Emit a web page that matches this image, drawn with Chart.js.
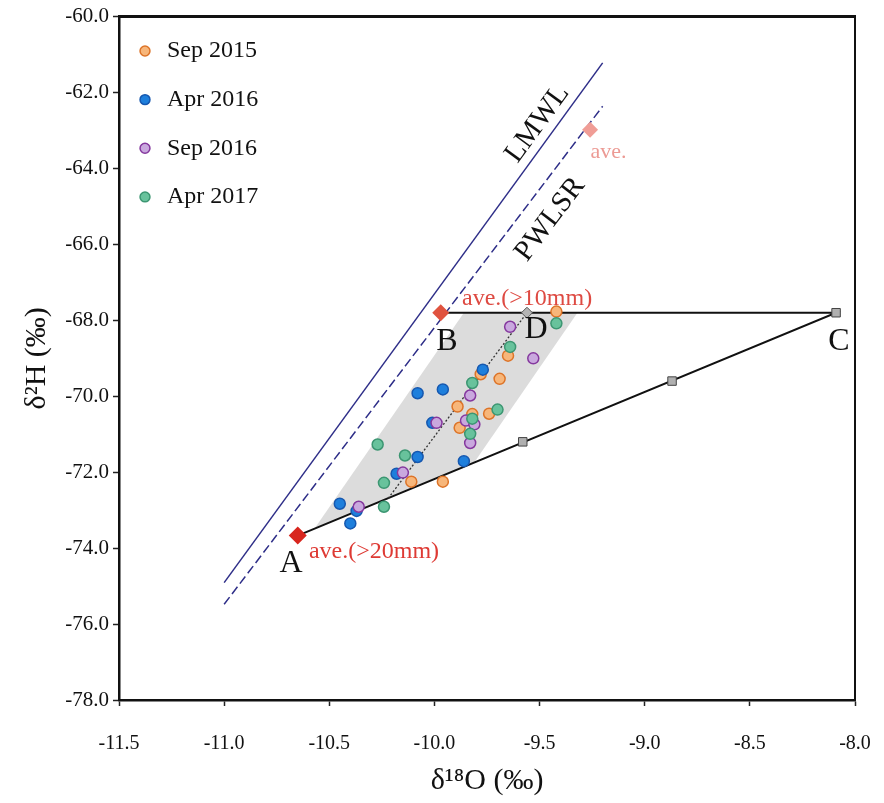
<!DOCTYPE html>
<html>
<head>
<meta charset="utf-8">
<script src="https://cdn.jsdelivr.net/npm/chart.js@4.4.1/dist/chart.umd.min.js"></script>
<style>
  html, body { margin: 0; padding: 0; background: #fff; }
  #wrap { width: 884px; height: 803px; }
</style>
</head>
<body>
<div id="wrap"><canvas id="isoChart"></canvas></div>
<script>
const SERIF = '"Liberation Serif", "Times New Roman", serif';

// sample series (d18O, d2H)
const sep2015X = [-9.42, -9.65, -9.78, -9.69, -9.89, -9.82, -9.74, -9.88, -10.11, -9.96];
const sep2015Y = [-67.77, -68.93, -69.42, -69.54, -70.27, -70.47, -70.46, -70.83, -72.25, -72.25];
const apr2016X = [-9.77, -10.08, -9.96, -10.01, -10.08, -9.86, -10.18, -10.45, -10.37, -10.40];
const apr2016Y = [-69.30, -69.92, -69.82, -70.70, -71.60, -71.71, -72.04, -72.83, -73.02, -73.35];
const sep2016X = [-9.64, -9.53, -9.83, -9.99, -9.85, -9.81, -9.83, -10.15, -10.36];
const sep2016Y = [-68.17, -69.00, -69.98, -70.70, -70.64, -70.74, -71.23, -72.01, -72.91];
const apr2017X = [-9.42, -9.64, -9.82, -9.70, -9.82, -9.83, -10.27, -10.14, -10.24, -10.24];
const apr2017Y = [-68.08, -68.70, -69.65, -70.35, -70.59, -70.99, -71.27, -71.56, -72.28, -72.91];

// end members and mixing
const pointA = [-10.65, -73.67];
const pointB = [-9.97, -67.80];
const pointD = [-9.56, -67.80];
const pointAve = [-9.26, -62.98];
const mixX = [-9.58, -8.87, -8.09];
const mixY = [-71.20, -69.60, -67.80];
const triX = [-10.65, -8.09, -9.97];
const triY = [-73.67, -67.80, -67.80];
const dotX = [-10.22, -9.56];
const dotY = [-72.69, -67.80];
const shadeX = [-10.57, -9.86, -9.32, -9.81];
const shadeY = [-73.48, -67.80, -67.80, -71.74];

// water lines
const lmwlX = [-11.0, -9.2];
const lmwlY = [-74.91, -61.22];
const pwlsrX = [-11.0, -9.2];
const pwlsrY = [-75.48, -62.36];

const xTicks = [-11.5, -11.0, -10.5, -10.0, -9.5, -9.0, -8.5, -8.0];
const yTicks = [-78, -76, -74, -72, -70, -68, -66, -64, -62, -60];

const pts = (xs, ys) => xs.map((x, i) => ({ x, y: ys[i] }));

const notes = [
  { text: 'LMWL', x: -9.51, y: -62.82, size: 29, color: '#111', along: [lmwlX, lmwlY] },
  { text: 'PWLSR', x: -9.45, y: -65.34, size: 29, color: '#111', along: [pwlsrX, pwlsrY] },
  { text: 'ave.', x: -9.258, y: -63.58, size: 22, color: '#ec9a94', align: 'left' },
  { text: 'ave.(>10mm)', x: -9.869, y: -67.43, size: 24, color: '#de4a42', align: 'left' },
  { text: 'ave.(>20mm)', x: -10.597, y: -74.09, size: 24, color: '#de3a34', align: 'left' },
  { text: 'A', x: -10.682, y: -74.41, size: 32, color: '#111' },
  { text: 'B', x: -9.94, y: -68.56, size: 32, color: '#111' },
  { text: 'D', x: -9.517, y: -68.25, size: 32, color: '#111' },
  { text: 'C', x: -8.076, y: -68.56, size: 32, color: '#111' },
];

const decorPlugin = {
  id: 'decor',
  afterDatasetsDraw(chart) {
    const { ctx, scales: { x, y } } = chart;
    ctx.save();
    notes.forEach(n => {
      ctx.font = `${n.size}px ${SERIF}`;
      ctx.fillStyle = n.color;
      ctx.textAlign = n.align || 'center';
      ctx.textBaseline = 'middle';
      ctx.save();
      ctx.translate(x.getPixelForValue(n.x), y.getPixelForValue(n.y));
      if (n.along) {
        const [lx, ly] = n.along;
        const dx = x.getPixelForValue(lx[1]) - x.getPixelForValue(lx[0]);
        const dy = y.getPixelForValue(ly[1]) - y.getPixelForValue(ly[0]);
        ctx.rotate(Math.atan2(dy, dx));
      }
      ctx.fillText(n.text, 0, 0);
      ctx.restore();
    });
    ctx.restore();
  },
  afterDraw(chart) {
    const { ctx, chartArea: a } = chart;
    ctx.save();
    ctx.strokeStyle = '#111';
    ctx.lineWidth = 3;
    ctx.beginPath();
    ctx.moveTo(a.left - 1, a.top);
    ctx.lineTo(a.right + 1, a.top);
    ctx.stroke();
    ctx.lineWidth = 2;
    ctx.beginPath();
    ctx.moveTo(a.right, a.top);
    ctx.lineTo(a.right, a.bottom);
    ctx.stroke();
    ctx.restore();
  },
};

const marker = (label, xs, ys, fill, edge, order) => ({
  label, data: pts(xs, ys), order,
  pointStyle: 'circle', pointRadius: 5.5,
  backgroundColor: fill, borderColor: edge, borderWidth: 1.5,
});

const ctx = document.getElementById('isoChart').getContext('2d');
new Chart(ctx, {
  type: 'scatter',
  data: {
    datasets: [
      marker('Sep 2015', sep2015X, sep2015Y, '#f7b67a', '#dd7428', 5),
      marker('Apr 2016', apr2016X, apr2016Y, '#1e7fdc', '#1658b0', 4),
      marker('Sep 2016', sep2016X, sep2016Y, '#c9a8de', '#85389e', 3),
      marker('Apr 2017', apr2017X, apr2017Y, '#68c29c', '#3c9672', 2),
      { label: 'A', data: pts([pointA[0]], [pointA[1]]), order: 1, pointStyle: 'rectRot', pointRadius: 9,
        backgroundColor: '#d8261e', borderColor: '#d8261e', borderWidth: 0 },
      { label: 'B', data: pts([pointB[0]], [pointB[1]]), order: 1, pointStyle: 'rectRot', pointRadius: 8.5,
        backgroundColor: '#e0533f', borderColor: '#e0533f', borderWidth: 0 },
      { label: 'ave', data: pts([pointAve[0]], [pointAve[1]]), order: 1, pointStyle: 'rectRot', pointRadius: 8,
        backgroundColor: '#f09d96', borderColor: '#f09d96', borderWidth: 0 },
      { label: 'D', data: pts([pointD[0]], [pointD[1]]), order: 1, pointStyle: 'rectRot', pointRadius: 5.5,
        backgroundColor: '#b4b4b4', borderColor: '#555', borderWidth: 1 },
      { label: 'mix', data: pts(mixX, mixY), order: 1, pointStyle: 'rect', pointRadius: 6,
        backgroundColor: '#b0b0b0', borderColor: '#444', borderWidth: 1 },
      { label: 'ACB', data: pts(triX, triY), order: 7, showLine: true, pointRadius: 0,
        borderColor: '#111', borderWidth: 2 },
      { label: 'AD', data: pts(dotX, dotY), order: 6, showLine: true, pointRadius: 0,
        borderColor: '#333', borderWidth: 1.3, borderDash: [2, 2] },
      { label: 'LMWL', data: pts(lmwlX, lmwlY), order: 8, showLine: true, pointRadius: 0,
        borderColor: '#2e2e88', borderWidth: 1.5 },
      { label: 'PWLSR', data: pts(pwlsrX, pwlsrY), order: 8, showLine: true, pointRadius: 0,
        borderColor: '#2e2e88', borderWidth: 1.5, borderDash: [9, 4] },
      { label: 'shade', data: pts(shadeX, shadeY), order: 10, showLine: true, pointRadius: 0,
        fill: 'shape', backgroundColor: '#dcdcdc', borderColor: 'rgba(0,0,0,0)', borderWidth: 0 },
    ],
  },
  options: {
    responsive: true,
    maintainAspectRatio: false,
    animation: false,
    events: [],
    layout: { padding: { top: 13, right: 29, left: 0, bottom: 0 } },
    plugins: {
      tooltip: { enabled: false },
      legend: {
        position: 'chartArea',
        align: 'start',
        title: { display: true, text: ' ', padding: 0, font: { size: 23, lineHeight: 1 } },
        labels: {
          usePointStyle: true,
          boxWidth: 20,
          boxHeight: 7,
          padding: 16,
          color: '#111',
          font: { family: SERIF, size: 24, lineHeight: 1.36 },
          generateLabels(chart) {
            return Chart.defaults.plugins.legend.labels.generateLabels(chart)
              .filter(l => l.datasetIndex < 4)
              .sort((a, b) => a.datasetIndex - b.datasetIndex)
              .map(l => ({ ...l, text: [l.text] }));
          },
        },
      },
    },
    scales: {
      x: {
        type: 'linear',
        min: xTicks[0], max: xTicks[xTicks.length - 1],
        afterBuildTicks: s => { s.ticks = xTicks.map(v => ({ value: v })); },
        afterFit: s => { s.height = 103; s.paddingLeft = 0; s.paddingRight = 0; },
        border: { display: true, color: '#111', width: 2.5 },
        grid: { drawOnChartArea: false, drawTicks: true, tickLength: 6, tickColor: '#222', tickWidth: 1.5 },
        ticks: { color: '#111', padding: 26, maxRotation: 0, font: { family: SERIF, size: 20 },
          callback: v => v.toFixed(1) },
        title: { display: true, text: 'δ¹⁸O (‰)', color: '#111', padding: { top: 0, bottom: 4 },
          font: { family: SERIF, size: 30 } },
      },
      y: {
        type: 'linear',
        min: yTicks[0], max: yTicks[yTicks.length - 1],
        afterBuildTicks: s => { s.ticks = yTicks.map(v => ({ value: v })); },
        afterFit: s => { s.width = 119; },
        border: { display: true, color: '#111', width: 2.5 },
        grid: { drawOnChartArea: false, drawTicks: true, tickLength: 6, tickColor: '#222', tickWidth: 1.5 },
        ticks: { color: '#111', padding: 4, font: { family: SERIF, size: 21 },
          callback: v => v.toFixed(1) },
        title: { display: true, text: 'δ²H (‰)', color: '#111', padding: { top: 19, bottom: 0 },
          font: { family: SERIF, size: 30 } },
      },
    },
  },
  plugins: [decorPlugin],
});
</script>
</body>
</html>
